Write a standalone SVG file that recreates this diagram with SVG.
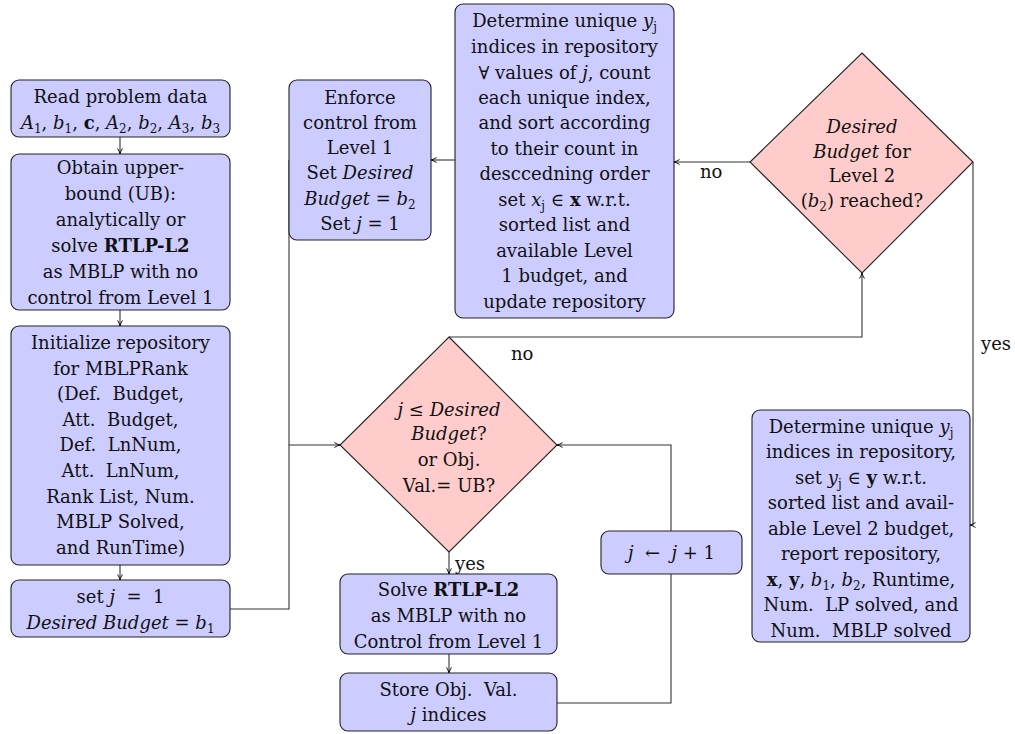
<svg xmlns="http://www.w3.org/2000/svg" width="1015" height="734" viewBox="0 0 1015 734">
  <defs>
    <marker id="tip" viewBox="0 0 10 10" refX="9" refY="5" markerWidth="7" markerHeight="7" markerUnits="userSpaceOnUse" orient="auto">
      <path d="M1,1.5 Q5,4 9,5 Q5,6 1,8.5" fill="none" stroke="#000" stroke-width="1.3"/>
    </marker>
    <style>
      .box { fill: #ccccff; stroke: #222; stroke-width: 1.1; }
      .dec { fill: #ffcccc; stroke: #222; stroke-width: 1.1; }
      .edge { fill: none; stroke: #333; stroke-width: 1.1; }
      .arr { marker-end: url(#tip); }
      text { font-family: "DejaVu Serif", "Liberation Serif", serif; font-size: 18px; fill: #111; text-anchor: middle; }
      .m { font-style: italic; }
      .b { font-weight: bold; }
      .s { font-size: 12px; font-style: normal; }
      .lbl { text-anchor: start; }
    </style>
  </defs>

  <!-- connectors -->
  <g id="connectors">
    <path class="edge arr" d="M120,137 V154"/>
    <path class="edge arr" d="M120,310 V326"/>
    <path class="edge arr" d="M120,565 V580"/>
    <path class="edge arr" d="M230,609 H289 V445 H340"/>
    <path class="edge" d="M289,160 V445"/>
    <path class="edge arr" d="M455,160 H431"/>
    <path class="edge arr" d="M750,162 H674"/>
    <path class="edge arr" d="M973,162 V525 H970"/>
    <path class="edge arr" d="M449,337 H862 V273"/>
    <path class="edge arr" d="M449,552 V574"/>
    <path class="edge arr" d="M449,654 V673"/>
    <path class="edge arr" d="M557,703 H671 V445 H557"/>
    <text class="lbl" x="700" y="178">no</text>
    <text class="lbl" x="981" y="350">yes</text>
    <text class="lbl" x="511" y="360">no</text>
    <text class="lbl" x="455" y="570">yes</text>
  </g>

  <g id="read-data">
    <rect class="box" x="11" y="80" width="219" height="57" rx="8"/>
    <text x="120.5" y="103">Read problem data</text>
    <text x="120.5" y="129"><tspan class="m">A</tspan><tspan class="s" dy="4">1</tspan><tspan dy="-4">, </tspan><tspan class="m">b</tspan><tspan class="s" dy="4">1</tspan><tspan dy="-4">, </tspan><tspan class="b">c</tspan><tspan>, </tspan><tspan class="m">A</tspan><tspan class="s" dy="4">2</tspan><tspan dy="-4">, </tspan><tspan class="m">b</tspan><tspan class="s" dy="4">2</tspan><tspan dy="-4">, </tspan><tspan class="m">A</tspan><tspan class="s" dy="4">3</tspan><tspan dy="-4">, </tspan><tspan class="m">b</tspan><tspan class="s" dy="4">3</tspan></text>
  </g>

  <g id="upper-bound">
    <rect class="box" x="11" y="154" width="219" height="156" rx="8"/>
    <text x="120.5" y="174">Obtain upper-</text>
    <text x="120.5" y="200">bound (UB):</text>
    <text x="120.5" y="226">analytically or</text>
    <text x="120.5" y="252">solve <tspan class="b">RTLP-L2</tspan></text>
    <text x="120.5" y="278">as MBLP with no</text>
    <text x="120.5" y="304">control from Level 1</text>
  </g>

  <g id="init-repository">
    <rect class="box" x="11" y="326" width="219" height="239" rx="8"/>
    <text x="120.5" y="349">Initialize repository</text>
    <text x="120.5" y="375">for MBLPRank</text>
    <text x="120.5" y="400">(Def.&#160; Budget,</text>
    <text x="120.5" y="426">Att.&#160; Budget,</text>
    <text x="120.5" y="451">Def.&#160; LnNum,</text>
    <text x="120.5" y="477">Att.&#160; LnNum,</text>
    <text x="120.5" y="503">Rank List, Num.</text>
    <text x="120.5" y="528">MBLP Solved,</text>
    <text x="120.5" y="554">and RunTime)</text>
  </g>

  <g id="set-j">
    <rect class="box" x="11" y="580" width="219" height="57" rx="8"/>
    <text x="120.5" y="603">set <tspan class="m">j</tspan>&#160;&#160;=&#160;&#160;1</text>
    <text x="120.5" y="629"><tspan class="m">Desired Budget</tspan> = <tspan class="m">b</tspan><tspan class="s" dy="4">1</tspan></text>
  </g>

  <g id="enforce-control">
    <rect class="box" x="289" y="80" width="142" height="160" rx="8"/>
    <text x="360" y="104">Enforce</text>
    <text x="360" y="129">control from</text>
    <text x="360" y="154">Level 1</text>
    <text x="360" y="179">Set <tspan class="m">Desired</tspan></text>
    <text x="360" y="205"><tspan class="m">Budget</tspan> = <tspan class="m">b</tspan><tspan class="s" dy="4">2</tspan></text>
    <text x="360" y="230">Set <tspan class="m">j</tspan> = 1</text>
  </g>

  <g id="rank-level1">
    <rect class="box" x="455" y="4" width="219" height="314" rx="8"/>
    <text x="564.5" y="27">Determine unique <tspan class="m">y</tspan><tspan class="s m" dy="4">j</tspan></text>
    <text x="564.5" y="53">indices in repository</text>
    <text x="564.5" y="79">∀ values of <tspan class="m">j</tspan>, count</text>
    <text x="564.5" y="104">each unique index,</text>
    <text x="564.5" y="129">and sort according</text>
    <text x="564.5" y="155">to their count in</text>
    <text x="564.5" y="180">desccedning order</text>
    <text x="564.5" y="206">set <tspan class="m">x</tspan><tspan class="s m" dy="4">j</tspan><tspan dy="-4">&#160;∈&#160;</tspan><tspan class="b">x</tspan> w.r.t.</text>
    <text x="564.5" y="231">sorted list and</text>
    <text x="564.5" y="257">available Level</text>
    <text x="564.5" y="282">1 budget, and</text>
    <text x="564.5" y="308">update repository</text>
  </g>

  <g id="level2-reached">
    <polygon class="dec" points="862,53 973,162 862,273 750,162"/>
    <text x="862" y="133" class="m">Desired</text>
    <text x="862" y="158"><tspan class="m">Budget</tspan> for</text>
    <text x="862" y="182">Level 2</text>
    <text x="862" y="207">(<tspan class="m">b</tspan><tspan class="s" dy="4">2</tspan><tspan dy="-4">) reached?</tspan></text>
  </g>

  <g id="budget-check">
    <polygon class="dec" points="449,337 557,445 449,552 340,445"/>
    <text x="449" y="416"><tspan class="m">j</tspan> ≤ <tspan class="m">Desired</tspan></text>
    <text x="449" y="440"><tspan class="m">Budget</tspan>?</text>
    <text x="449" y="466">or Obj.</text>
    <text x="449" y="492">Val.= UB?</text>
  </g>

  <g id="solve-mblp">
    <rect class="box" x="340" y="574" width="217" height="80" rx="8"/>
    <text x="448.5" y="596">Solve <tspan class="b">RTLP-L2</tspan></text>
    <text x="448.5" y="622">as MBLP with no</text>
    <text x="448.5" y="648">Control from Level 1</text>
  </g>

  <g id="store-value">
    <rect class="box" x="340" y="673" width="217" height="58" rx="8"/>
    <text x="448.5" y="696">Store Obj.&#160; Val.</text>
    <text x="448.5" y="721"><tspan class="m">j</tspan> indices</text>
  </g>

  <g id="increment-j">
    <rect class="box" x="601" y="531" width="141" height="43" rx="8"/>
    <text x="671.5" y="559"><tspan class="m">j</tspan>&#160;&#160;←&#160;&#160;<tspan class="m">j</tspan>&#160;+&#160;1</text>
  </g>

  <g id="report">
    <rect class="box" x="752" y="410" width="218" height="232" rx="8"/>
    <text x="861" y="433">Determine unique <tspan class="m">y</tspan><tspan class="s m" dy="4">j</tspan></text>
    <text x="861" y="458">indices in repository,</text>
    <text x="861" y="484">set <tspan class="m">y</tspan><tspan class="s m" dy="4">j</tspan><tspan dy="-4">&#160;∈&#160;</tspan><tspan class="b">y</tspan> w.r.t.</text>
    <text x="861" y="509">sorted list and avail-</text>
    <text x="861" y="535">able Level 2 budget,</text>
    <text x="861" y="560">report repository,</text>
    <text x="861" y="586"><tspan class="b">x</tspan>, <tspan class="b">y</tspan>, <tspan class="m">b</tspan><tspan class="s" dy="4">1</tspan><tspan dy="-4">, </tspan><tspan class="m">b</tspan><tspan class="s" dy="4">2</tspan><tspan dy="-4">, Runtime,</tspan></text>
    <text x="861" y="611">Num.&#160; LP solved, and</text>
    <text x="861" y="637">Num.&#160; MBLP solved</text>
  </g>
</svg>
